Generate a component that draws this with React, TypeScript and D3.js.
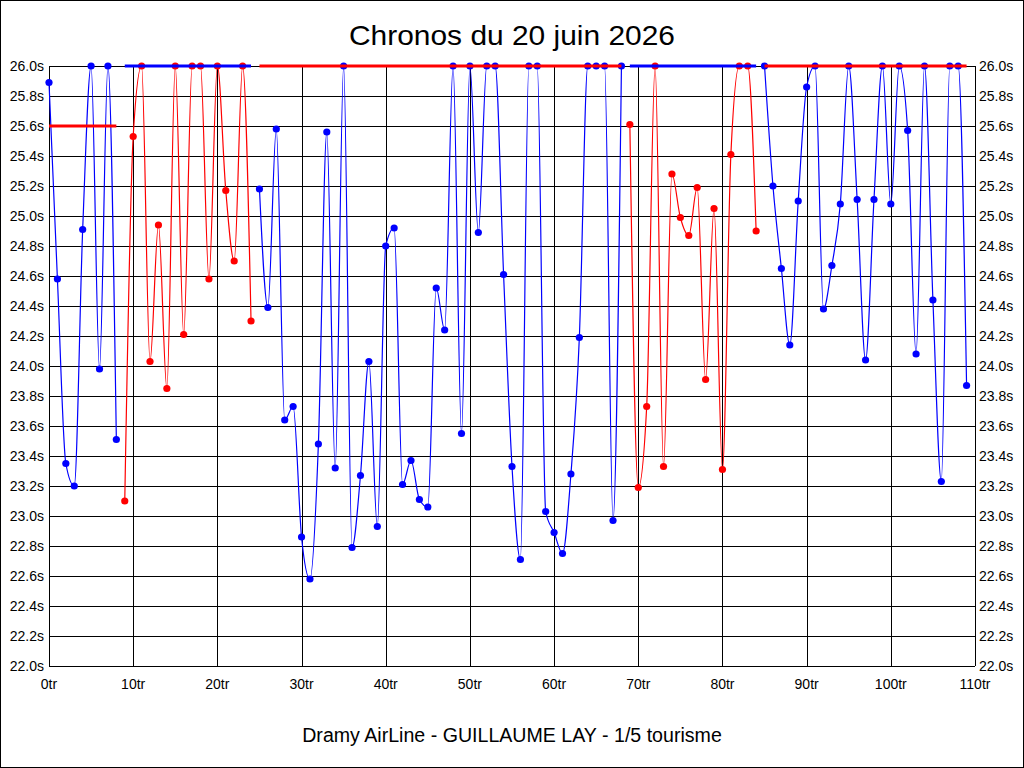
import { scaleLinear, line, curveMonotoneX, range } from 'd3';

// chronos par tour (s)
const chronos = [
  25.89, 24.58, 23.35, 23.2, 24.91, 26.0, 23.98, 26.0, 23.51, 23.1,
  25.53, 26.0, 24.03, 24.94, 23.85, 26.0, 24.21, 26.0, 26.0, 24.58,
  26.0, 25.17, 24.7, 26.0, 24.3, 25.18, 24.39, 25.58, 23.64, 23.73,
  22.86, 22.58, 23.48, 25.56, 23.32, 26.0, 22.79, 23.27, 24.03, 22.93,
  24.8, 24.92, 23.21, 23.37, 23.11, 23.06, 24.52, 24.24, 26.0, 23.55,
  26.0, 24.89, 26.0, 26.0, 24.61, 23.33, 22.71, 26.0, 26.0, 23.03,
  22.89, 22.75, 23.28, 24.19, 26.0, 26.0, 26.0, 22.97, 26.0, 25.61,
  23.19, 23.73, 26.0, 23.33, 25.28, 24.99, 24.87, 25.19, 23.91, 25.05,
  23.31, 25.41, 26.0, 26.0, 24.9, 26.0, 25.2, 24.65, 24.14, 25.1,
  25.86, 26.0, 24.38, 24.67, 25.08, 26.0, 25.11, 24.04, 25.11, 26.0,
  25.08, 26.0, 25.57, 24.08, 26.0, 24.44, 23.23, 26.0, 26.0, 23.87,
];

// tronçons de la courbe : [premier tour, dernier tour, série]
const segments: [number, number, string][] = [
  [0, 8, 'bleu'],
  [9, 24, 'rouge'],
  [25, 68, 'bleu'],
  [69, 84, 'rouge'],
  [85, 109, 'bleu'],
];

// repères épais : [premier tour, dernier tour, valeur, série]
const reperes: [number, number, number, string][] = [
  [0, 8, 25.6, 'rouge'],
  [9, 24, 26.0, 'bleu'],
  [25, 68, 26.0, 'rouge'],
  [69, 84, 26.0, 'bleu'],
  [85, 109, 26.0, 'rouge'],
];

const xTicks = range(0, 111, 10);
const yTicks = range(0, 21).map((i) => 22 + i * 0.2);

const couleurs: Record<string, string> = { bleu: '#0000ff', rouge: '#ff0000' };

export default function App() {
  const width = 1024;
  const height = 768;
  const left = 49;
  const right = 975;
  const top = 66;
  const bottom = 666;
  const font = '"Liberation Sans", Arial, sans-serif';

  const x = scaleLinear().domain([0, 110]).range([left, right]);
  const y = scaleLinear().domain([22, 26]).range([bottom, top]);

  const courbe = line<number>()
    .x((i) => x(i))
    .y((i) => y(chronos[i]))
    .curve(curveMonotoneX);

  return (
    <div style={{ position: 'absolute', left: 0, top: 0 }}>
      <svg width={width} height={height} style={{ display: 'block', background: '#fff' }}>
        <rect x={0.5} y={0.5} width={width - 1} height={height - 1} fill="#fff" stroke="#000" />

        <text x={512} y={45} textAnchor="middle" fontFamily={font} fontSize={28}
          textLength={326} lengthAdjust="spacingAndGlyphs">
          Chronos du 20 juin 2026
        </text>

        {/* grille */}
        <g shapeRendering="crispEdges" stroke="#000" strokeWidth={1}>
          {yTicks.map((t) => (
            <line key={'h' + t} x1={left} x2={right} y1={Math.round(y(t)) + 0.5} y2={Math.round(y(t)) + 0.5} />
          ))}
          {xTicks.map((t) => (
            <line key={'v' + t} x1={Math.round(x(t)) + 0.5} x2={Math.round(x(t)) + 0.5} y1={top} y2={bottom} />
          ))}
        </g>

        {/* libellés des axes */}
        <g fontFamily={font} fontSize={14} fill="#000">
          {yTicks.map((t) => (
            <text key={'l' + t} x={left - 5} y={y(t)} dy="0.35em" textAnchor="end">
              {t.toFixed(1)}s
            </text>
          ))}
          {yTicks.map((t) => (
            <text key={'r' + t} x={right + 4} y={y(t)} dy="0.35em" textAnchor="start">
              {t.toFixed(1)}s
            </text>
          ))}
          {xTicks.map((t) => (
            <text key={'x' + t} x={x(t)} y={689} textAnchor="middle">
              {t}tr
            </text>
          ))}
        </g>

        {/* courbes */}
        {segments.map(([a, b, s]) => (
          <path key={'c' + a} d={courbe(range(a, b + 1)) ?? ''} fill="none"
            stroke={couleurs[s]} strokeWidth={1.2} />
        ))}

        {/* points */}
        {segments.map(([a, b, s]) =>
          range(a, b + 1).map((i) => (
            <circle key={'p' + i} cx={x(i)} cy={y(chronos[i])} r={3.6} fill={couleurs[s]} />
          ))
        )}

        {/* repères */}
        {reperes.map(([a, b, v, s]) => (
          <line key={'rp' + a} x1={x(a)} x2={x(b)} y1={y(v)} y2={y(v)}
            stroke={couleurs[s]} strokeWidth={3} />
        ))}

        <text x={512} y={742} textAnchor="middle" fontFamily={font} fontSize={19.6}>
          Dramy AirLine - GUILLAUME LAY - 1/5 tourisme
        </text>
      </svg>
    </div>
  );
}
